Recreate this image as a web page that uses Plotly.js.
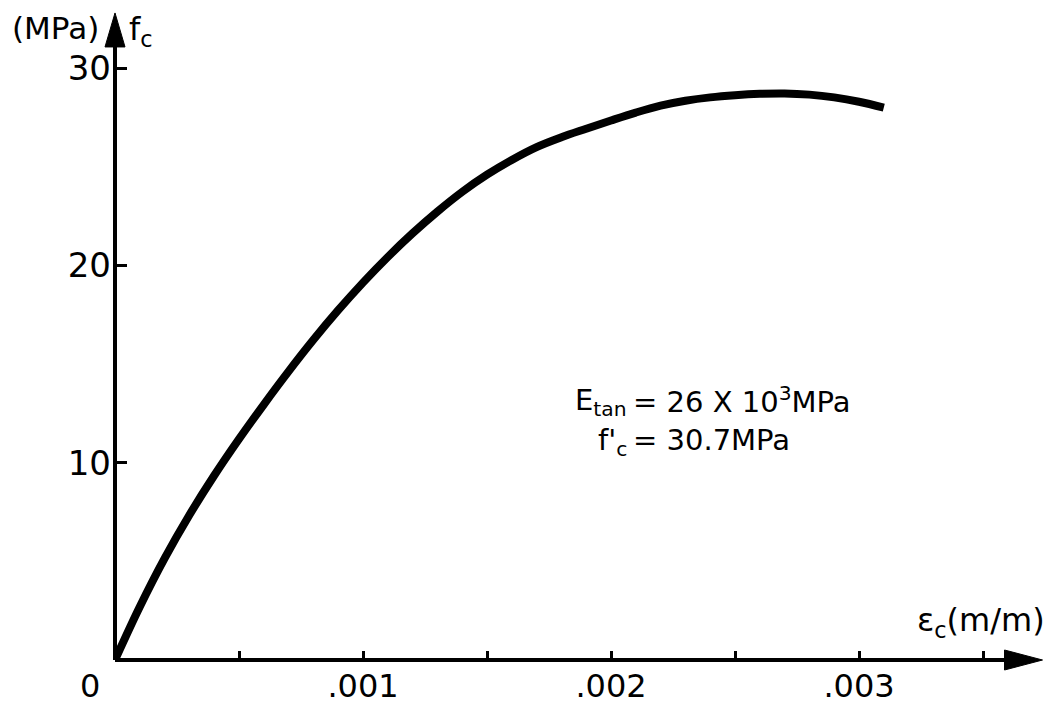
<!DOCTYPE html>
<html>
<head>
<meta charset="utf-8">
<script src="https://cdn.plot.ly/plotly-3.0.1.min.js"></script>
<style>html,body{margin:0;padding:0;background:#fff;}#chart{width:1049px;height:706px;}</style>
</head>
<body>
<div id="chart"></div>
<script>
// Stress-strain curve (strain in m/m, stress in MPa)
const strain = [0, 0.0001, 0.0002, 0.0003, 0.0004, 0.0005, 0.0006, 0.0007, 0.0008, 0.0009, 0.0010,
                0.0011, 0.0012, 0.0013, 0.0014, 0.0015, 0.0016, 0.0017, 0.0018, 0.0019, 0.0020,
                0.0021, 0.0022, 0.0023, 0.0024, 0.0025, 0.0026, 0.0027, 0.0028, 0.0029, 0.0030, 0.0031];
const stress = [0, 2.7, 5.15, 7.35, 9.35, 11.2, 12.95, 14.63, 16.23, 17.73, 19.13,
                20.43, 21.63, 22.73, 23.73, 24.6, 25.35, 26.0, 26.5, 26.93, 27.35,
                27.75, 28.1, 28.35, 28.52, 28.63, 28.7, 28.72, 28.66, 28.52, 28.3, 28.0];

const xTickVals = [0.001, 0.002, 0.003];
const xTickText = ['.001', '.002', '.003'];
const xMinorStep = 0.0005;
const yTickVals = [10, 20, 30];
const yTickText = ['10', '20', '30'];

const xMax = 0.00375, yMax = 33;
const xArrowTip = 0.00374, yArrowTip = 32.8;

const FONT = 'DejaVu Sans, Liberation Sans, sans-serif';

const trace = {
  x: strain, y: stress, type: 'scatter', mode: 'lines',
  line: {color: '#000', width: 8, shape: 'spline', smoothing: 1},
  cliponaxis: false, hoverinfo: 'skip'
};

// paper fractions of the arrow tips (axis domains are [0,1], ranges start at 0)
const px = v => v / xMax, py = v => v / yMax;

const layout = {
  width: 1049, height: 706,
  margin: {l: 115, r: 4, t: 9, b: 46},
  paper_bgcolor: '#fff', plot_bgcolor: '#fff',
  showlegend: false,
  font: {family: FONT, color: '#000', size: 32},
  xaxis: {
    range: [0, xMax], showgrid: false, zeroline: false, showline: false,
    tickmode: 'array', tickvals: xTickVals, ticktext: xTickText,
    ticks: 'inside', ticklen: 9, tickwidth: 3, tickcolor: '#000',
    ticklabelstandoff: 4,
    tickfont: {family: FONT, size: 32, color: '#000'},
    minor: {tick0: 0, dtick: xMinorStep, ticks: 'inside', ticklen: 9, tickwidth: 3, tickcolor: '#000', showgrid: false}
  },
  yaxis: {
    range: [0, yMax], showgrid: false, zeroline: false, showline: false,
    tickmode: 'array', tickvals: yTickVals, ticktext: yTickText,
    ticks: 'inside', ticklen: 12, tickwidth: 3, tickcolor: '#000',
    ticklabelstandoff: 3,
    tickfont: {family: FONT, size: 34, color: '#000'}
  },
  shapes: [
    // axis lines
    {type: 'line', xref: 'paper', yref: 'paper', x0: 0, y0: 0, x1: px(xArrowTip) - 0.01, y1: 0, line: {color: '#000', width: 4}, layer: 'above'},
    {type: 'line', xref: 'paper', yref: 'paper', x0: 0, y0: 0, x1: 0, y1: py(yArrowTip) - 0.01, line: {color: '#000', width: 4}, layer: 'above'},
    // arrow heads (pixel-sized, anchored at tips)
    {type: 'path', xref: 'paper', yref: 'paper', xsizemode: 'pixel', ysizemode: 'pixel', xanchor: px(xArrowTip), yanchor: 0,
     path: 'M 0 0 L -38 10 L -38 -10 Z', fillcolor: '#000', line: {color: '#000', width: 1}, layer: 'above'},
    {type: 'path', xref: 'paper', yref: 'paper', xsizemode: 'pixel', ysizemode: 'pixel', xanchor: 0, yanchor: py(yArrowTip),
     path: 'M 0 0 L -10 -34 L 10 -34 Z', fillcolor: '#000', line: {color: '#000', width: 1}, layer: 'above'}
  ],
  annotations: [
    {x: 90, y: 686, text: '0', xanchor: 'center', font: {size: 32}},
    {x: 100, y: 28, text: '(MPa)', xanchor: 'right', font: {size: 31}},
    {x: 128, y: 31, text: 'f<sub>c</sub>', xanchor: 'left', font: {size: 32}},
    {x: 1046, y: 622, text: 'ε<sub>c</sub>(m/m)', xanchor: 'right', font: {size: 32}},
    {x: 628, y: 402, text: 'E<sub>tan</sub>', xanchor: 'right', font: {size: 29}},
    {x: 632, y: 400, text: '= 26 X 10<sup>3</sup>MPa', xanchor: 'left', font: {size: 29}},
    {x: 628, y: 442, text: "f'<sub>c</sub>", xanchor: 'right', font: {size: 29}},
    {x: 632, y: 440, text: '= 30.7MPa', xanchor: 'left', font: {size: 29}}
  ]
};

// convert pixel-positioned text annotations into paper coords
const W = 1049, H = 706, m = layout.margin;
const pw = W - m.l - m.r, ph = H - m.t - m.b;
layout.annotations.forEach(a => {
  a.xref = 'paper'; a.yref = 'paper'; a.showarrow = false;
  a.x = (a.x - m.l) / pw; a.y = 1 - (a.y - m.t) / ph;
  a.yanchor = 'middle'; a.borderpad = 0;
});

Plotly.newPlot('chart', [trace], layout, {staticPlot: true, displayModeBar: false});
</script>
</body>
</html>
